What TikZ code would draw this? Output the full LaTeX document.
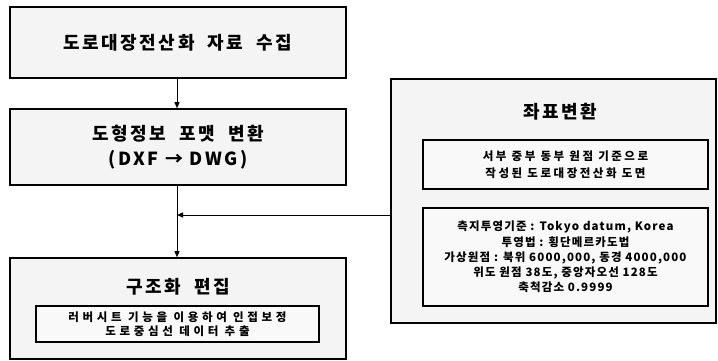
\documentclass[tikz,border=0pt]{standalone}
\usepackage{fontspec}
\setmainfont{Noto Sans CJK KR}
\usetikzlibrary{arrows.meta}
\begin{document}
\begin{tikzpicture}[x=1pt,y=-1pt,
  box/.style={draw=black,line width=1.6pt,fill=gray!9,inner sep=0pt,anchor=center},
  inbox/.style={draw=black,line width=1.4pt,fill=gray!5,inner sep=0pt,anchor=center,align=center},
  bigtxt/.style={font=\bfseries\fontsize{18}{25}\selectfont\addfontfeature{LetterSpace=14},align=center},
  smalltxt/.style={font=\bfseries\fontsize{11.5}{15.3}\selectfont\addfontfeature{LetterSpace=10},align=center},
  midtxt/.style={font=\bfseries\fontsize{11.5}{17}\selectfont\addfontfeature{LetterSpace=22},align=center},
  tinytxt/.style={font=\bfseries\fontsize{11.5}{13.5}\selectfont\addfontfeature{LetterSpace=32},align=center},
  conn/.style={line width=0.9pt,-{Triangle[length=6pt,width=5pt]}}]
\useasboundingbox (0,0) rectangle (718,361);
\fill[white] (0,0) rectangle (718,361);
\node[box,minimum width=336pt,minimum height=71pt,bigtxt] (b1) at (178,42.5) {도로대장전산화~~자료~~수집};
\node[box,minimum width=336pt,minimum height=76pt,bigtxt] (b2) at (178,147) {도형정보~~포맷~~변환\\(DXF → DWG)};
\node[box,minimum width=336pt,minimum height=101pt] (b3) at (178,308.5) {};
\node[bigtxt] (t3) at (178,287) {구조화~~편집};
\node[inbox,minimum width=283pt,minimum height=36pt,tinytxt] (i3) at (177.5,324) {러버시트 기능을 이용하여 인접보정\\도로중심선 데이터 추출};
\node[box,minimum width=325pt,minimum height=244pt] (rb) at (553.5,201) {};
\node[bigtxt] (rt) at (560,112) {좌표변환};
\node[inbox,minimum width=285pt,minimum height=49pt,midtxt] (ra) at (565.5,164.5) {서부 중부 동부 원점 기준으로\\작성된 도로대장전산화 도면};
\node[inbox,minimum width=285pt,minimum height=98pt,smalltxt] (rbb) at (565.5,257) {측지투영기준 : Tokyo datum, Korea\\투영법 : 횡단메르카도법\\가상원점 : 북위 6000,000, 동경 4000,000\\위도 원점 38도, 중앙자오선 128도\\축척감소 0.9999};
\coordinate (j) at (177,215);
\draw[conn] (b1.south -| j) -- (b2.north -| j);
\draw[conn] (b2.south -| j) -- (b3.north -| j);
\draw[conn] (j -| rb.west) -- (j);
\end{tikzpicture}
\end{document}
